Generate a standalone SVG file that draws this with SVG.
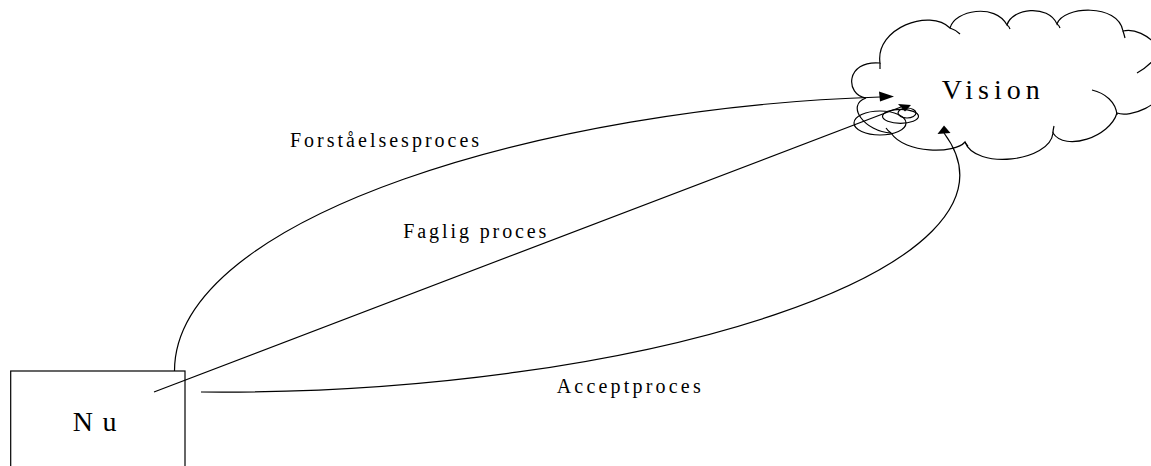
<svg xmlns="http://www.w3.org/2000/svg" width="1151" height="466" viewBox="0 0 1151 466">
<style>
.ol{fill:none;stroke:#000;stroke-width:1.2}
.fillw{fill:#fff;stroke:#000;stroke-width:1.2}
.ah{fill:#000;stroke:none}
.lbl{font-family:"Liberation Serif","Times New Roman",serif;font-size:20px;fill:#000;letter-spacing:3px}
.big{font-family:"Liberation Serif","Times New Roman",serif;font-size:28px;fill:#000}
</style>
<rect width="1151" height="466" fill="#fff"/>
<g id="vision">
<path class="fillw" d="M891,133 C865,132 845,105 866,98 C845,95 845,60 880,63 C875,28 930,8 950,28 C955,10 995,3 1007,25 C1012,8 1048,4 1057,24 C1063,6 1118,3 1123,31 C1145,25 1180,60 1162,85 C1165,105 1130,118 1117,113 C1110,137 1065,152 1053,133 C1050,162 975,170 965,142 C955,154 905,154 891,133 Z"/>
<path class="ol" d="M880,69 L880,63 M950,28 Q956,30 960,34 M1007,25 Q1009,26 1010,29 M1057,24 Q1059,25 1060,28 M1123,31 Q1124,34 1125,38 M1137,73 Q1148,67 1158,55 M1092,90 C1105,93 1116,102 1117,115 M1053,133 Q1053,130 1054,126 M965,142 Q966,144 968,146 M891,133 Q888,131 886,128"/>
<ellipse class="ol" cx="880" cy="123" rx="26" ry="12"/>
<ellipse class="ol" cx="900.5" cy="116.3" rx="18" ry="7"/>
<ellipse class="ol" cx="907" cy="113" rx="9" ry="5"/>
<text class="big" x="941.7" y="99.3" style="letter-spacing:5px">Vision</text>
</g>
<g id="nu">
<rect class="fillw" x="10.7" y="371" width="174.3" height="130"/>
<text class="big" x="72.7" y="430.7" style="letter-spacing:9.5px">Nu</text>
</g>
<g id="connectors">
<path class="ol" d="M174.5,371 C174.5,215 550,107 880,97"/>
<polygon class="ah" points="894,96.5 879,91.5 880,101.5"/>
<path class="ol" d="M154,392 L901,107"/>
<polygon class="ah" points="898,104 911,105 905,111.5"/>
<path class="ol" d="M201,392 C640,396 1045,268 944,133"/>
<polygon class="ah" points="944,125.5 937.5,134 950.5,133"/>
<text class="lbl" x="290" y="146.7">Forståelsesproces</text>
<text class="lbl" x="403.3" y="238.3" style="letter-spacing:2.9px">Faglig proces</text>
<text class="lbl" x="556.7" y="393.3" style="letter-spacing:3.2px">Acceptproces</text>
</g>
</svg>
